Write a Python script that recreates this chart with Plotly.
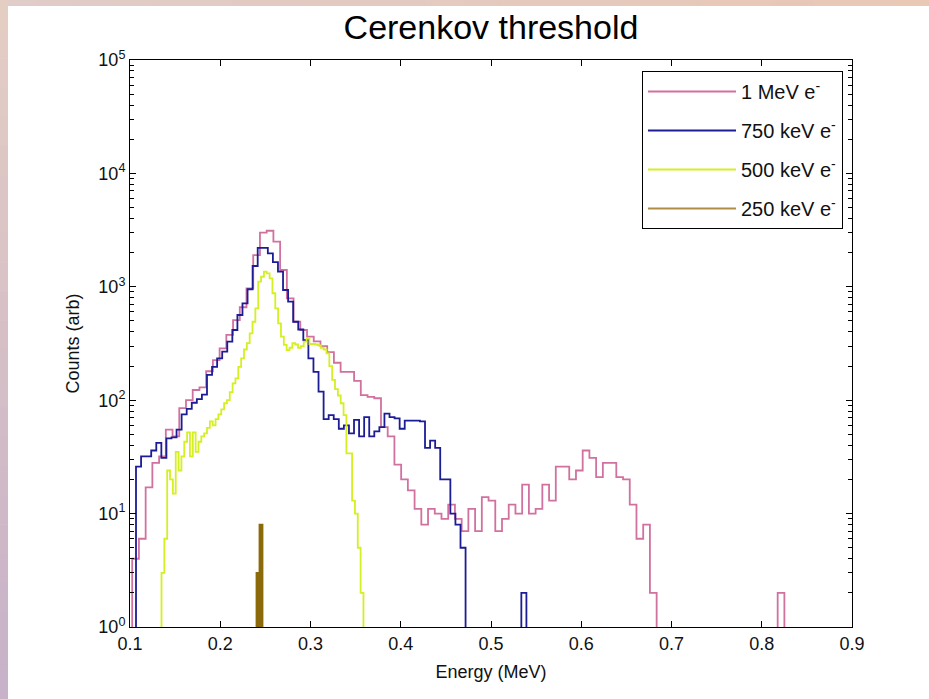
import numpy as np
import plotly.graph_objects as go

# ---------------- data ----------------
energy_range = [0.1, 0.9]
x_ticks = [0.1, 0.2, 0.3, 0.4, 0.5, 0.6, 0.7, 0.8, 0.9]
x_tick_labels = ["0.1", "0.2", "0.3", "0.4", "0.5", "0.6", "0.7", "0.8", "0.9"]
y_ticks = [1, 10, 100, 1000, 10000, 100000]
y_tick_labels = ["10<sup>0</sup>", "10<sup>1</sup>", "10<sup>2</sup>",
                 "10<sup>3</sup>", "10<sup>4</sup>", "10<sup>5</sup>"]
series_names = ["1 MeV e<sup>-</sup>", "750 keV e<sup>-</sup>",
                "500 keV e<sup>-</sup>", "250 keV e<sup>-</sup>"]

# 1 MeV electrons: histogram bins (start energy, bin width in MeV), counts
mev1_start, mev1_width = 0.10244, 0.00745
mev1_counts = [4, 6, 17, 28, 32, 55, 48, 85, 100, 123,
               130, 180, 226, 287, 376, 509, 660, 970, 1900, 3000,
               3120, 2500, 1406, 791, 492, 416, 363, 330, 300, 265,
               214, 178, 178, 148, 111, 107, 104, 58, 48, 27,
               20, 16, 11, 8, 11, 10, 9, 12, 9, 7,
               11, 7, 14, 13, 7, 9, 12, 10, 18, 10,
               11, 18, 13, 26, 26, 20, 24, 36, 31, 21,
               28, 28, 21, 20, 12, 6, 8, 2, 0, 0,
               0, 0, 0, 0, 0, 0, 0, 0, 0, 0,
               0, 0, 0, 0, 0, 0, 2]

# 750 keV electrons
kev750_start, kev750_width = 0.10665, 0.005618
kev750_counts = [26, 32, 32, 36, 42, 31, 46, 47, 55, 75,
                 84, 95, 102, 112, 167, 197, 234, 268, 328, 416,
                 564, 715, 951, 1525, 2200, 2200, 1970, 1650, 1360, 937,
                 740, 492, 420, 339, 234, 178, 119, 68, 74, 68,
                 56, 60, 51, 67, 48, 71, 48, 53, 58, 76,
                 71, 69, 56, 66, 66, 66, 65, 38, 44, 38,
                 20, 20, 10, 8, 5, 0, 0, 0, 0, 0,
                 0, 0, 0, 0, 0, 0, 2]

# 500 keV electrons
kev500_start, kev500_width = 0.13490, 0.003152
kev500_counts = [3, 6, 24, 20, 15, 35, 24, 32, 43, 52,
                 32, 52, 35, 43, 48, 51, 57, 65, 60, 68,
                 75, 83, 94, 100, 118, 141, 156, 197, 234, 280,
                 318, 389, 492, 646, 1109, 1227, 1358, 1315, 1188, 877,
                 646, 476, 363, 307, 277, 290, 318, 310, 290, 300,
                 328, 351, 313, 313, 310, 305, 290, 280, 259, 200,
                 151, 125, 110, 94, 74, 34, 34, 13, 10, 5,
                 2]

# 250 keV electrons
kev250_start, kev250_width = 0.24017, 0.00332
kev250_counts = [3, 8]

# ---------------- styling ----------------
colors = ["#d1719f", "#1c1c94", "#d5ef22", "#8a6a0a"]
legend_colors = ["#d1719f", "#1c1c94", "#d5ef22", "#b08d45"]
FONT = "Liberation Sans, Arial, sans-serif"
W, H = 929, 699
ML, MR, MT, MB = 130, 77, 60, 72
PW, PH = W - ML - MR, H - MT - MB
FLOOR = 0.4  # stands in for an empty bin (log axis): drawn below the axis


def stairs(start, width, counts):
    c = np.asarray(counts, dtype=float)
    y = np.where(c > 0, c, FLOOR)
    edges = start + width * np.arange(len(c) + 1)
    xs = np.concatenate([[edges[0]], edges])
    ys = np.concatenate([[FLOOR], y, [FLOOR]])
    return xs, ys


fig = go.Figure()
series = [(mev1_start, mev1_width, mev1_counts),
          (kev750_start, kev750_width, kev750_counts),
          (kev500_start, kev500_width, kev500_counts),
          (kev250_start, kev250_width, kev250_counts)]
for i, (s, w, c) in enumerate(series):
    xs, ys = stairs(s, w, c)
    extra = {}
    if i == 3:
        extra = dict(fill="toself", fillcolor=colors[3])
    fig.add_trace(go.Scatter(x=xs, y=ys, mode="lines", line_shape="hv",
                             line=dict(color=colors[i], width=1.8),
                             name=series_names[i], showlegend=False, **extra))
# legend entries (line samples only)
for i in range(4):
    fig.add_trace(go.Scatter(x=[None], y=[None], mode="lines",
                             line=dict(color=legend_colors[i], width=2),
                             name=series_names[i], legendgroup=str(i)))


def px_x(p):
    return (p - ML) / PW


def px_y(p):
    return (H - MB - p) / PH


# decorative gradient border of the slide (top band and left band)
shapes = []
n = 24
for k in range(n):
    t = k / (n - 1)
    r = int(224 + (233 - 224) * t); g = int(204 + (200 - 204) * t); b = int(200 + (182 - 200) * t)
    shapes.append(dict(type="rect", xref="paper", yref="paper",
                       x0=px_x(W * k / n), x1=px_x(W * (k + 1) / n) + 0.001,
                       y0=px_y(6), y1=px_y(0), line=dict(width=0),
                       fillcolor=f"rgb({r},{g},{b})", layer="below"))
for k in range(n):
    t = k / (n - 1)
    r = int(228 + (200 - 228) * t); g = int(206 + (178 - 206) * t); b = int(196 + (202 - 196) * t)
    shapes.append(dict(type="rect", xref="paper", yref="paper",
                       x0=px_x(0), x1=px_x(8),
                       y0=px_y(H * (k + 1) / n) - 0.001, y1=px_y(H * k / n),
                       line=dict(width=0),
                       fillcolor=f"rgb({r},{g},{b})", layer="below"))

axis_common = dict(showline=True, linecolor="black", linewidth=1, mirror="ticks",
                   ticks="inside", tickcolor="black", showgrid=False, zeroline=False,
                   tickfont=dict(family=FONT, size=18, color="#111111"))

fig.update_layout(
    width=W, height=H,
    margin=dict(l=ML, r=MR, t=MT, b=MB),
    paper_bgcolor="white", plot_bgcolor="white",
    title=dict(text="Cerenkov threshold", x=0.5, xref="paper", xanchor="center",
               y=1 - 27 / H, yref="container", yanchor="middle",
               font=dict(family=FONT, size=34, color="black")),
    xaxis=dict(range=energy_range, tickvals=x_ticks, ticktext=x_tick_labels,
               ticklen=6, title=dict(text="Energy (MeV)", standoff=12,
                                     font=dict(family=FONT, size=18, color="#111111")),
               **axis_common),
    yaxis=dict(type="log", range=[0, 5], tickvals=y_ticks, ticktext=y_tick_labels,
               ticklen=6, minor=dict(ticks="inside", ticklen=4, tickcolor="black",
                                     dtick="D1", showgrid=False),
               title=dict(text="Counts (arb)", standoff=14,
                          font=dict(family=FONT, size=18, color="#111111")),
               **axis_common),
    legend=dict(x=px_x(843), xanchor="right", y=px_y(71), yanchor="top",
                bgcolor="white", bordercolor="black", borderwidth=1,
                font=dict(family=FONT, size=20, color="#111111"),
                tracegroupgap=10, itemwidth=88),
    shapes=shapes,
)

fig.write_html("out.html")
